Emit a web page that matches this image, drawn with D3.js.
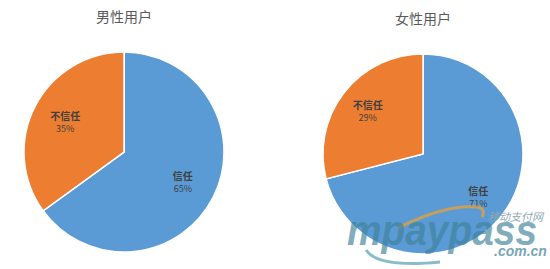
<!DOCTYPE html>
<html>
<head>
<meta charset="utf-8">
<script src="https://cdn.jsdelivr.net/npm/d3@7"></script>
<style>
  body { margin: 0; background: #fff; }
  svg { display: block; font-family: "Noto Sans CJK SC", "Noto Sans", sans-serif; }
</style>
</head>
<body>
<div id="chart"></div>
<script>
// values
var titles = ["男性用户", "女性用户"];
var categories = ["信任", "不信任"];
var maleValues = [65, 35];
var femaleValues = [71, 29];
var colors = ["#5b9bd5", "#ed7d31"];

var width = 550, height = 269;

var svg = d3.select('#chart').append('svg')
    .attr('width', width)
    .attr('height', height);

svg.append('rect').attr('width', width).attr('height', height).attr('fill', '#fff');

var color = d3.scaleOrdinal().domain(categories).range(colors);

// one pie per group
var charts = [
  {title: titles[0], values: maleValues, cx: 124, cy: 152, titleY: 22, labelR: 0.66},
  {title: titles[1], values: femaleValues, cx: 423, cy: 154, titleY: 24, labelR: 0.7}
];

var pie = d3.pie().sort(null).value(function(d) { return d.value; });
var radius = 100;
var arc = d3.arc().innerRadius(0).outerRadius(radius);

charts.forEach(function(c) {
  var data = categories.map(function(k, i) { return {key: k, value: c.values[i]}; });
  var total = d3.sum(c.values);

  svg.append('text')
      .attr('x', c.cx)
      .attr('y', c.titleY)
      .attr('text-anchor', 'middle')
      .style('font-size', '14px')
      .style('fill', '#595959')
      .text(c.title);

  var g = svg.append('g').attr('transform', 'translate(' + c.cx + ',' + c.cy + ')');

  var labelArc = d3.arc().innerRadius(radius * c.labelR).outerRadius(radius * c.labelR);

  g.selectAll('path')
    .data(pie(data))
    .enter()
    .append('path')
      .attr('d', arc)
      .attr('fill', function(d) { return color(d.data.key); })
      .attr('stroke', '#fff')
      .attr('stroke-width', 1.5);

  var lab = g.selectAll('.lab')
    .data(pie(data))
    .enter()
    .append('g')
      .attr('class', 'lab')
      .attr('transform', function(d) { return 'translate(' + labelArc.centroid(d) + ')'; });

  lab.append('text')
      .attr('text-anchor', 'middle')
      .attr('y', -2)
      .style('font-size', '10px')
      .style('font-weight', 'bold')
      .style('fill', '#404040')
      .text(function(d) { return d.data.key; });

  lab.append('text')
      .attr('text-anchor', 'middle')
      .attr('y', 10)
      .style('font-size', '9px')
      .style('fill', '#404040')
      .text(function(d) { return Math.round(d.data.value / total * 100) + '%'; });
});

// watermark
var wm = svg.append('g').attr('class', 'watermark');
wm.append('path')
    .attr('d', 'M398,228 Q445,204 478,207 Q486,209 482,217')
    .attr('fill', 'none')
    .attr('stroke', '#e0a040')
    .attr('stroke-width', 3)
    .attr('opacity', 0.8);
wm.append('path')
    .attr('d', 'M366,250 Q378,268 440,262')
    .attr('fill', 'none')
    .attr('stroke', '#3a8fa8')
    .attr('stroke-width', 3)
    .attr('opacity', 0.6);
wm.append('text')
    .attr('x', 347)
    .attr('y', 245)
    .attr('textLength', 190)
    .attr('lengthAdjust', 'spacingAndGlyphs')
    .style('font-family', '"Liberation Sans", Arial, sans-serif')
    .style('font-size', '42px')
    .style('font-weight', 'bold')
    .style('font-style', 'italic')
    .style('fill', '#3f8199')
    .style('opacity', 0.65)
    .text('mpaypass');
wm.append('text')
    .attr('x', 488)
    .attr('y', 221)
    .style('font-size', '11px')
    .style('font-style', 'italic')
    .style('fill', '#8fa8b4')
    .text('移动支付网');
wm.append('text')
    .attr('x', 494)
    .attr('y', 256)
    .style('font-family', '"Liberation Sans", Arial, sans-serif')
    .style('font-size', '14px')
    .style('font-weight', 'bold')
    .style('font-style', 'italic')
    .style('fill', '#5a8fa6')
    .style('opacity', 0.8)
    .text('.com.cn');
</script>
</body>
</html>
